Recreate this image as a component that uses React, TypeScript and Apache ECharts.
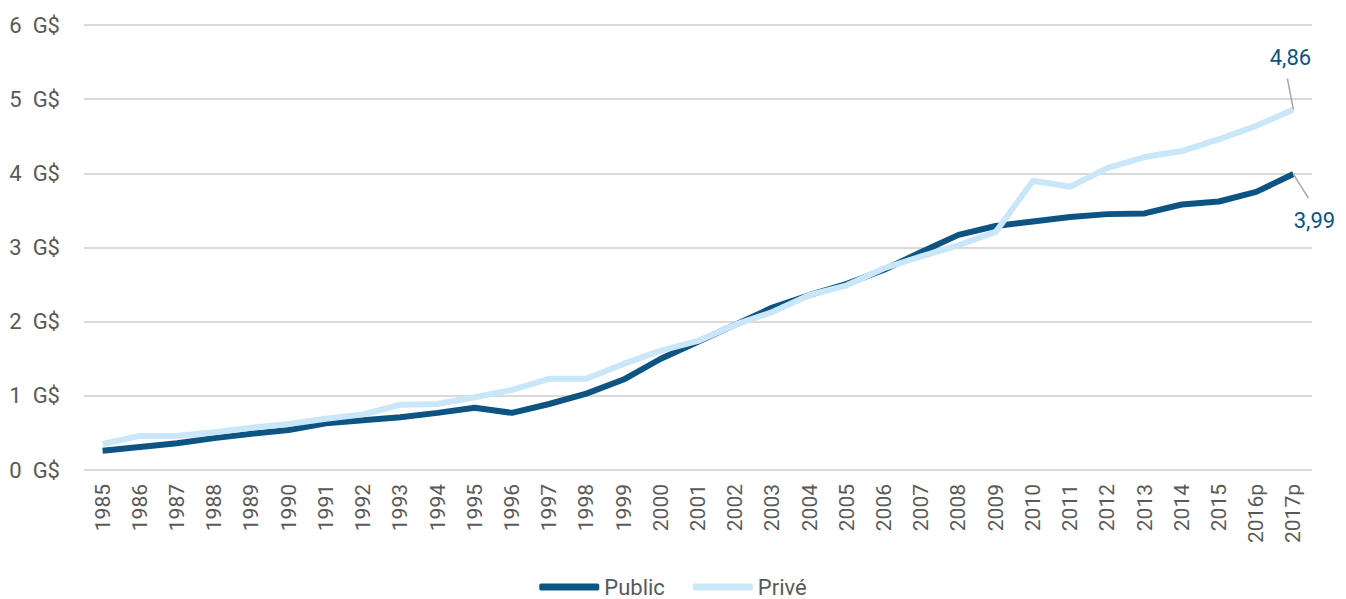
import React, { useEffect, useRef } from "react";
import * as echarts from "echarts";

const years = [
  "1985", "1986", "1987", "1988", "1989", "1990", "1991", "1992", "1993", "1994",
  "1995", "1996", "1997", "1998", "1999", "2000", "2001", "2002", "2003", "2004",
  "2005", "2006", "2007", "2008", "2009", "2010", "2011", "2012", "2013", "2014",
  "2015", "2016p", "2017p",
];

const publicValues = [
  0.26, 0.31, 0.36, 0.43, 0.49, 0.54, 0.63, 0.67, 0.71, 0.77,
  0.84, 0.77, 0.89, 1.03, 1.22, 1.5, 1.73, 1.96, 2.19, 2.36,
  2.51, 2.7, 2.94, 3.17, 3.29, 3.35, 3.41, 3.45, 3.46, 3.58,
  3.62, 3.75, 3.99,
];

const priveValues = [
  0.35, 0.46, 0.46, 0.51, 0.57, 0.62, 0.69, 0.75, 0.88, 0.89,
  0.98, 1.08, 1.23, 1.23, 1.43, 1.61, 1.74, 1.96, 2.13, 2.36,
  2.49, 2.72, 2.88, 3.03, 3.21, 3.9, 3.82, 4.07, 4.22, 4.3,
  4.46, 4.64, 4.86,
];

const yTicks = [0, 1, 2, 3, 4, 5, 6];

const DARK = "#0d5483";
const LIGHT = "#c9e7f9";
const GRAY_TEXT = "#595959";
const LEADER = "#a6a6a6";
const FONT = "Roboto";

function withEndLabel(values: number[]) {
  return values.map((v, i) =>
    i === values.length - 1
      ? {
          value: v,
          label: {
            show: true,
            formatter: (p: any) => String(p.value).replace(".", ","),
            color: DARK,
            fontSize: 22,
            fontFamily: FONT,
            position: "top",
          },
        }
      : v
  );
}

export default function App() {
  const ref = useRef<HTMLDivElement>(null);
  useEffect(() => {
    if (!ref.current) return;
    document.body.style.margin = "0";
    const chart = echarts.init(ref.current, undefined, { renderer: "svg" });
    chart.setOption({
      animation: false,
      textStyle: { fontFamily: FONT },
      grid: { left: 84, right: 34, top: 25, bottom: 129, containLabel: false },
      legend: {
        top: 571,
        left: "center",
        itemWidth: 60,
        itemHeight: 7,
        itemGap: 28,
        icon: "roundRect",
        textStyle: { color: GRAY_TEXT, fontSize: 22, fontFamily: FONT },
        data: ["Public", "Privé"],
      },
      xAxis: {
        type: "category",
        data: years,
        boundaryGap: true,
        axisLine: { show: false },
        axisTick: { show: false },
        axisLabel: {
          rotate: 90,
          interval: 0,
          color: GRAY_TEXT,
          fontSize: 21,
          fontFamily: FONT,
          margin: 14,
        },
      },
      yAxis: {
        type: "value",
        min: yTicks[0],
        max: yTicks[yTicks.length - 1],
        interval: 1,
        axisLine: { show: false },
        axisTick: { show: false },
        splitLine: { lineStyle: { color: "#d9d9d9", width: 2 } },
        axisLabel: {
          color: GRAY_TEXT,
          fontSize: 22,
          fontFamily: FONT,
          margin: 24,
          formatter: (v: number) => `${v}  G$`,
        },
      },
      series: [
        {
          name: "Public",
          type: "line",
          data: withEndLabel(publicValues),
          showSymbol: true,
          symbol: "circle",
          symbolSize: 0,
          lineStyle: { color: DARK, width: 6 },
          itemStyle: { color: DARK },
          labelLayout: { dx: 21, dy: 62 },
        },
        {
          name: "Privé",
          type: "line",
          data: withEndLabel(priveValues),
          showSymbol: true,
          symbol: "circle",
          symbolSize: 0,
          lineStyle: { color: LIGHT, width: 6 },
          itemStyle: { color: LIGHT },
          labelLayout: { dx: -3, dy: -36 },
        },
      ],
    });

    const last = years.length - 1;
    const pPub = chart.convertToPixel({ seriesIndex: 0 }, [last, publicValues[last]]) as number[];
    const pPriv = chart.convertToPixel({ seriesIndex: 1 }, [last, priveValues[last]]) as number[];
    chart.setOption({
      graphic: [
        {
          type: "line",
          shape: { x1: pPriv[0], y1: pPriv[1], x2: pPriv[0] - 6, y2: pPriv[1] - 31 },
          style: { stroke: LEADER, lineWidth: 1.5 },
          z: 10,
        },
        {
          type: "line",
          shape: { x1: pPub[0], y1: pPub[1], x2: pPub[0] + 15, y2: pPub[1] + 24 },
          style: { stroke: LEADER, lineWidth: 1.5 },
          z: 10,
        },
      ],
    });
    return () => chart.dispose();
  }, []);
  return <div ref={ref} style={{ width: 1346, height: 599 }} />;
}
